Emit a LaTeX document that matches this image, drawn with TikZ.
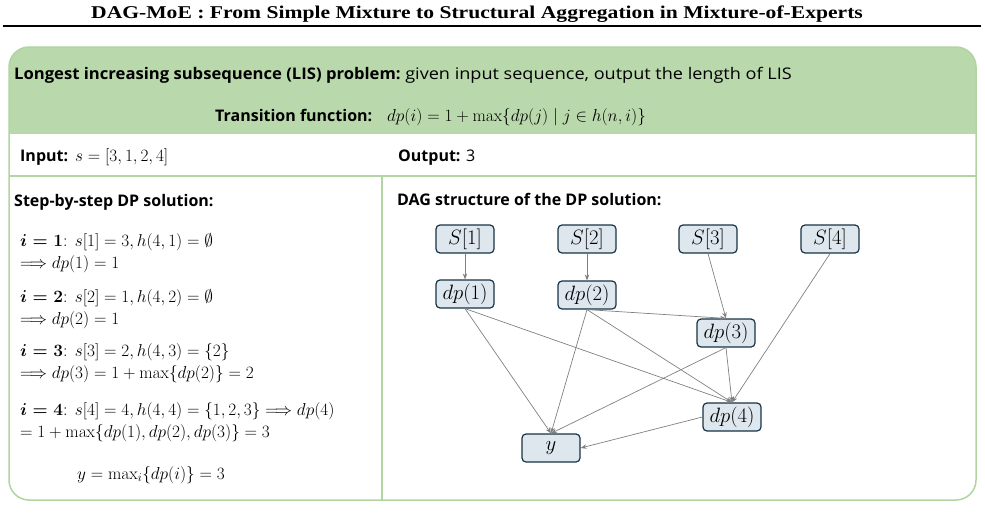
\documentclass[tikz,border=0pt]{standalone}
\usepackage{amsmath,amssymb}
\usepackage[no-math]{fontspec}
\usepackage{xcolor}
\usetikzlibrary{arrows.meta,positioning}
\newfontfamily\labelfont{Open Sans}
\newfontfamily\titlefont{Liberation Serif}
\definecolor{headgreen}{RGB}{185,216,171}
\definecolor{panelgreen}{RGB}{176,213,160}
\definecolor{nodeblue}{RGB}{222,231,238}
\definecolor{nodeedge}{RGB}{23,50,68}
\definecolor{arrowgrey}{RGB}{128,128,128}
\tikzset{
  labeltext/.style={anchor=base west,inner sep=0pt,
    font=\labelfont\fontsize{16}{19}\selectfont},
  steptext/.style={anchor=base west,inner sep=0pt,align=left,
    font=\fontsize{18}{22}\selectfont},
  dagnode/.style={draw=nodeedge,rounded corners=4pt,line width=1.2pt,
    fill=nodeblue,minimum width=58pt,minimum height=28pt,inner sep=2pt,
    font=\fontsize{20}{23}\selectfont},
  flow/.style={-{Stealth[length=6pt,width=4.5pt]},draw=arrowgrey,line width=0.7pt}
}

\begin{document}
\begin{tikzpicture}[x=1pt,y=-1pt]
  \useasboundingbox (0,0) rectangle (985,522);
  % title and rule
  \node[inner sep=0pt,font=\titlefont\bfseries\fontsize{18}{21}\selectfont] (title)
    at (477,14) {\scalebox{1.2}[1]{DAG-MoE : From Simple Mixture to Structural Aggregation in Mixture-of-Experts}};
  \draw[line width=2pt] (3,26) -- (981,26);
  % panel
  \begin{scope}
    \clip[rounded corners=20pt] (9,47) rectangle (976,500);
    \fill[headgreen] (9,47) rectangle (976,134);
  \end{scope}
  \draw[panelgreen,line width=1.5pt,rounded corners=20pt] (9,47) rectangle (976,500);
  \draw[panelgreen,line width=1.5pt] (9,176) -- (976,176);
  \draw[panelgreen,line width=1.5pt] (382,176) -- (382,500);
  % header texts
  \node[labeltext] (prob) at (14,79)
    {\scalebox{1.04}[1]{\bfseries Longest increasing subsequence (LIS) problem:}\scalebox{1.13}[1]{ given input sequence, output the length of LIS}};
  \node[labeltext] (trans) at (215,121) {\bfseries Transition function:};
  \node[steptext] (transeq) at (387,121)
    {$dp(i)=1+\max\{dp(j)\mid j\in h(n,i)\}$};
  \node[labeltext] (input) at (20,161) {\bfseries Input:};
  \node[steptext] (inputeq) at (75,161) {$s=[3,1,2,4]$};
  \node[labeltext] (output) at (398,161) {\bfseries Output:\mdseries{} 3};
  % left column (base anchor sits on the last line)
  \node[labeltext] (steps) at (14,206) {\bfseries Step-by-step DP solution:};
  \node[steptext] (step1) at (20,268)
    {$\boldsymbol{i=1}$: $s[1]=3, h(4,1)=\emptyset$\\$\Longrightarrow dp(1)=1$};
  \node[steptext] (step2) at (20,324)
    {$\boldsymbol{i=2}$: $s[2]=1, h(4,2)=\emptyset$\\$\Longrightarrow dp(2)=1$};
  \node[steptext] (step3) at (20,378)
    {$\boldsymbol{i=3}$: $s[3]=2, h(4,3)=\{2\}$\\$\Longrightarrow dp(3)=1+\max\{dp(2)\}=2$};
  \node[steptext] (step4) at (20,437)
    {$\boldsymbol{i=4}$: $s[4]=4, h(4,4)=\{1,2,3\}\Longrightarrow dp(4)$\\$=1+\max\{dp(1),dp(2),dp(3)\}=3$};
  \node[steptext] (yres) at (77,479) {$y=\max_i\{dp(i)\}=3$};
  % right column
  \node[labeltext] (dagtitle) at (397,205) {\bfseries DAG structure of the DP solution:};
  \node[dagnode] (S1) at (465,239) {$S[1]$};
  \node[dagnode] (S2) at (587,239) {$S[2]$};
  \node[dagnode] (S3) at (708,239) {$S[3]$};
  \node[dagnode] (S4) at (830,239) {$S[4]$};
  \node[dagnode] (dp1) at (465,294) {$dp(1)$};
  \node[dagnode] (dp2) at (587,295) {$dp(2)$};
  \node[dagnode] (dp3) at (726,333) {$dp(3)$};
  \node[dagnode] (dp4) at (732,417) {$dp(4)$};
  \node[dagnode] (y) at (551,448) {$y$};
  \draw[flow] (S1) -- (dp1);
  \draw[flow] (S2) -- (dp2);
  \draw[flow] (S3.south) -- (dp3.north);
  \draw[flow] (S4.south) -- (dp4.north);
  \draw[flow] (dp1.south) -- (y.north);
  \draw[flow] (dp1.south) -- (dp4.north);
  \draw[flow] (dp2.south) -- (dp3.north);
  \draw[flow] (dp2.south) -- (y.north);
  \draw[flow] (dp2.south) -- (dp4.north);
  \draw[flow] (dp3.south) -- (y.north);
  \draw[flow] (dp3.south) -- (dp4.north);
  \draw[flow] (dp4.west) -- (y.east);
\end{tikzpicture}
\end{document}
